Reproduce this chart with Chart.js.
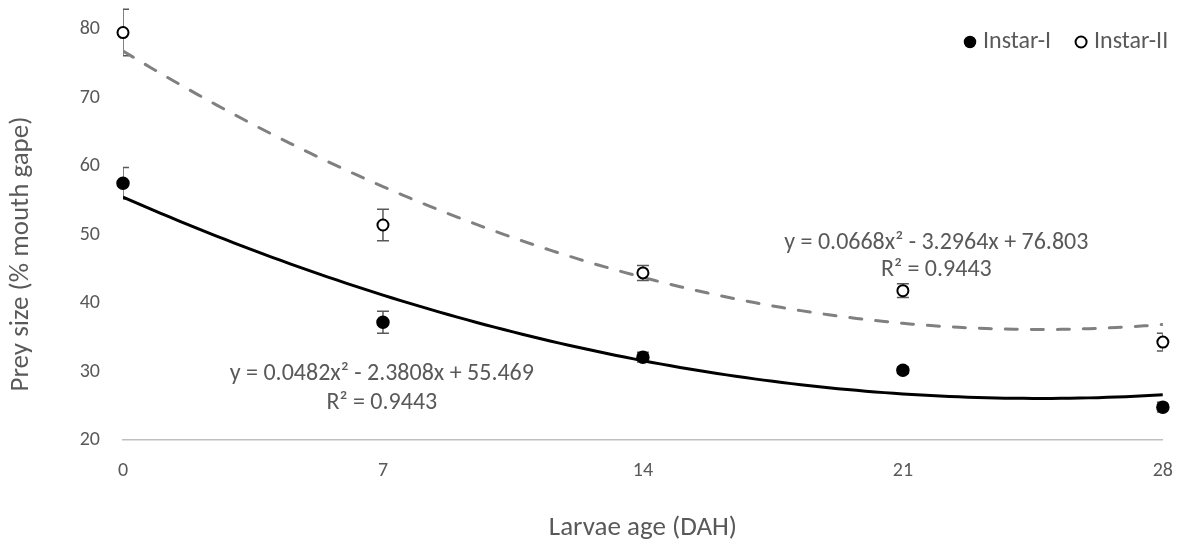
<!DOCTYPE html>
<html lang="en">
<head>
  <meta charset="UTF-8">
  <title>Prey size vs larvae age</title>
  <script src="https://cdn.jsdelivr.net/npm/chart.js"></script>
  <style>
    body { margin: 0; background: #fff; }
    #wrap { width: 1192px; height: 544px; }
  </style>
</head>
<body>

<div id="wrap"><canvas id="preyChart" width="1192" height="544"></canvas></div>

<script>
// data
const ages = [0, 7, 14, 21, 28];
const instar1 = [57.5, 37.2, 32.1, 30.2, 24.8];
const instar1Err = [2.3, 1.6, 0.7, 0.5, 0.7];
const instar2 = [79.5, 51.4, 44.4, 41.8, 34.3];
const instar2Err = [3.4, 2.3, 1.1, 1.0, 1.3];
// polynomial trendlines as printed on the chart (a, b, c)
const fit1 = [0.0482, -2.3808, 55.469];
const fit2 = [0.0668, -3.2964, 76.803];
const xTicks = [0, 7, 14, 21, 28];
const yTicks = [20, 30, 40, 50, 60, 70, 80];

const FONT = "Carlito, Lato, sans-serif";
const GREY = "#595959";

function curve(coef) {
  const pts = [];
  for (let x = 0; x <= 28; x += 0.25) {
    pts.push({ x: x, y: coef[0] * x * x + coef[1] * x + coef[2] });
  }
  return pts;
}

const errorBars = {
  id: "errorBars",
  beforeDatasetsDraw(chart) {
    const { ctx, chartArea, scales } = chart;
    ctx.save();
    ctx.beginPath();
    ctx.rect(chartArea.left, 0, chartArea.right - chartArea.left, chartArea.bottom);
    ctx.clip();
    ctx.strokeStyle = GREY;
    ctx.lineWidth = 1.5;
    [[instar1, instar1Err], [instar2, instar2Err]].forEach(([vals, errs]) => {
      vals.forEach((v, i) => {
        const x = scales.x.getPixelForValue(ages[i]);
        const yTop = scales.y.getPixelForValue(v + errs[i]);
        const yBot = scales.y.getPixelForValue(v - errs[i]);
        ctx.beginPath();
        ctx.moveTo(x, yTop); ctx.lineTo(x, yBot);
        ctx.moveTo(x - 6, yTop); ctx.lineTo(x + 6, yTop);
        ctx.moveTo(x - 6, yBot); ctx.lineTo(x + 6, yBot);
        ctx.stroke();
      });
    });
    ctx.restore();
  }
};

const equations = {
  id: "equations",
  afterDatasetsDraw(chart) {
    const { ctx, scales } = chart;
    ctx.save();
    ctx.fillStyle = GREY;
    ctx.font = "24px " + FONT;
    ctx.textAlign = "center";
    ctx.textBaseline = "middle";
    const lines = [
      ["y = 0.0668x\u00B2 - 3.2964x + 76.803", 21.9, 48.8],
      ["R\u00B2 = 0.9443", 21.9, 44.8],
      ["y = 0.0482x\u00B2 - 2.3808x + 55.469", 6.97, 29.6],
      ["R\u00B2 = 0.9443", 6.97, 25.4]
    ];
    lines.forEach(([t, x, y]) => {
      ctx.fillText(t, scales.x.getPixelForValue(x), scales.y.getPixelForValue(y));
    });
    ctx.restore();
  }
};

// legend and y title drawn by hand so they sit where the original has them
const extras = {
  id: "extras",
  afterDraw(chart) {
    const { ctx } = chart;
    const items = chart.data.datasets.filter(d => d.inLegend);
    ctx.save();
    ctx.font = "24px " + FONT;
    ctx.textBaseline = "middle";
    let x = 970;
    const y = 42;
    items.forEach(d => {
      ctx.beginPath();
      ctx.arc(x, y, 5.5, 0, Math.PI * 2);
      ctx.fillStyle = d.backgroundColor;
      ctx.fill();
      ctx.lineWidth = d.borderWidth;
      ctx.strokeStyle = d.borderColor;
      ctx.stroke();
      ctx.fillStyle = GREY;
      ctx.fillText(d.label, x + 13, y);
      x += 13 + ctx.measureText(d.label).width + 30;
    });

    ctx.translate(21, 254);
    ctx.rotate(-Math.PI / 2);
    ctx.font = "27px " + FONT;
    ctx.textAlign = "center";
    ctx.fillStyle = GREY;
    ctx.fillText("Prey size (% mouth gape)", 0, 0);
    ctx.restore();
  }
};

new Chart(document.getElementById("preyChart"), {
  type: "scatter",
  data: {
    datasets: [
      {
        label: "Instar-I",
        inLegend: true,
        data: ages.map((a, i) => ({ x: a, y: instar1[i] })),
        pointStyle: "circle",
        pointRadius: 6,
        backgroundColor: "#000",
        borderColor: "#000",
        borderWidth: 1.5,
        clip: false,
        order: 0
      },
      {
        label: "Instar-II",
        inLegend: true,
        data: ages.map((a, i) => ({ x: a, y: instar2[i] })),
        pointStyle: "circle",
        pointRadius: 5.5,
        backgroundColor: "#fff",
        borderColor: "#000",
        borderWidth: 2,
        clip: false,
        order: 0
      },
      {
        type: "line",
        label: "fit1",
        data: curve(fit1),
        borderColor: "#000",
        borderWidth: 3,
        pointRadius: 0,
        tension: 0,
        order: 1
      },
      {
        type: "line",
        label: "fit2",
        data: curve(fit2),
        borderColor: "#808080",
        borderWidth: 3,
        borderDash: [12, 14],
        borderCapStyle: "round",
        pointRadius: 0,
        tension: 0,
        order: 1
      }
    ]
  },
  options: {
    responsive: false,
    animation: false,
    layout: { padding: { top: 0, right: 24, left: 0, bottom: 0 } },
    plugins: {
      tooltip: { enabled: false },
      legend: { display: false }
    },
    scales: {
      x: {
        type: "linear",
        min: 0,
        max: 28,
        afterBuildTicks: axis => { axis.ticks = xTicks.map(v => ({ value: v })); },
        afterFit: axis => { axis.height = 104; },
        grid: { display: false, drawTicks: false },
        border: { display: true, color: "#bfbfbf", width: 1.5 },
        ticks: { color: GREY, padding: 19, font: { family: FONT, size: 20 } },
        title: {
          display: true,
          text: "Larvae age (DAH)",
          color: GREY,
          padding: { top: 0, bottom: 0 },
          font: { family: FONT, size: 27 }
        }
      },
      y: {
        min: 20,
        max: 82.5,
        afterBuildTicks: axis => { axis.ticks = yTicks.map(v => ({ value: v })); },
        afterFit: axis => { axis.width = 123; },
        // invisible tick marks push the labels away from the plot edge
        grid: { display: true, drawOnChartArea: false, drawTicks: true, tickLength: 23, color: "rgba(0,0,0,0)" },
        border: { display: false },
        ticks: { color: GREY, padding: 0, font: { family: FONT, size: 20 } },
        title: { display: false }
      }
    }
  },
  plugins: [errorBars, equations, extras]
});
</script>

</body>
</html>
